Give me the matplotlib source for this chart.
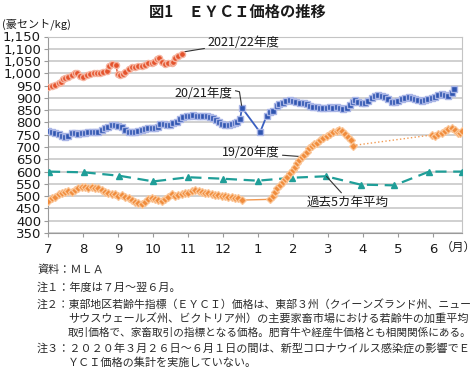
import numpy as np
import matplotlib
matplotlib.use('Agg')
import matplotlib.pyplot as plt

plt.rcParams['font.family'] = ['DejaVu Sans', 'Noto Sans CJK JP']
JP = ['Noto Sans CJK JP', 'DejaVu Sans']

# ---------------- data ----------------
month_labels = ['7', '8', '9', '10', '11', '12', '1', '2', '3', '4', '5', '6']
yticks = list(range(350, 1151, 50))

# time = months elapsed since start of July (fiscal year Jul-Jun)
fy2122_t = [0.0, 0.1, 0.2, 0.3, 0.36, 0.42, 0.49, 0.58, 0.68, 0.77, 0.84, 0.91, 0.99,
            1.1, 1.2, 1.3, 1.39, 1.49, 1.58, 1.68, 1.74, 1.82, 1.94, 1.99, 2.06, 2.13,
            2.2, 2.3, 2.39, 2.49, 2.58, 2.68, 2.77, 2.87, 2.96, 3.03, 3.1, 3.17, 3.25,
            3.34, 3.44, 3.53, 3.58, 3.63, 3.72, 3.82]
fy2122_v = [946, 947, 952, 959, 966, 976, 982, 986, 993, 1000, 1000, 989, 986,
            993, 996, 1000, 1003, 1000, 1007, 1011, 1030, 1038, 1034, 997, 993, 997,
            1007, 1016, 1024, 1027, 1030, 1030, 1034, 1041, 1043, 1047, 1057, 1061, 1047,
            1038, 1041, 1043, 1047, 1061, 1071, 1079]

fy2021_t = [0.0, 0.1, 0.2, 0.3, 0.39, 0.49, 0.58, 0.68, 0.77, 0.87, 0.96, 1.06, 1.15,
            1.25, 1.34, 1.44, 1.53, 1.63, 1.72, 1.82, 1.91, 2.01, 2.1, 2.2, 2.3, 2.39,
            2.49, 2.58, 2.68, 2.77, 2.87, 2.96, 3.06, 3.15, 3.2, 3.3, 3.39, 3.49, 3.58,
            3.68, 3.77, 3.87, 3.96, 4.06, 4.15, 4.25, 4.34, 4.44, 4.53, 4.62, 4.71, 4.8,
            4.89, 4.98, 5.07, 5.16, 5.25, 5.34, 5.41, 5.49, 5.54,
            6.06, 6.25, 6.34, 6.44, 6.53, 6.61, 6.71, 6.8, 6.9, 6.99, 7.09, 7.2, 7.3,
            7.39, 7.49, 7.58, 7.68, 7.77, 7.87, 7.96, 8.05, 8.15, 8.25, 8.34, 8.44,
            8.53, 8.62, 8.7, 8.77, 8.87, 8.96, 9.06, 9.15, 9.25, 9.34, 9.44, 9.53,
            9.63, 9.72, 9.82, 9.91, 10.01, 10.1, 10.2, 10.3, 10.39, 10.49, 10.58,
            10.68, 10.77, 10.87, 10.96, 11.06, 11.15, 11.25, 11.34, 11.44, 11.53, 11.6]
fy2021_v = [766, 763, 756, 752, 746, 742, 745, 756, 756, 752, 756, 758, 761,
            763, 760, 763, 769, 776, 783, 790, 791, 786, 780, 769, 763, 760,
            763, 766, 769, 773, 776, 777, 777, 783, 794, 794, 790, 790, 796,
            803, 813, 823, 826, 826, 830, 828, 826, 828, 828, 823, 817, 810,
            800, 792, 790, 790, 794, 799, 803, 813, 860,
            760, 828, 843, 847, 867, 874, 878, 887, 891, 887, 885, 881, 878,
            874, 868, 864, 862, 858, 858, 860, 861, 860, 861, 860, 856,
            858, 870, 885, 891, 882, 878, 881, 889, 898, 908, 912, 909,
            905, 894, 882, 885, 889, 894, 901, 905, 901, 894, 891,
            889, 891, 894, 898, 905, 912, 916, 912, 908, 919, 935]

fy1920_t = [0.0, 0.1, 0.2, 0.3, 0.39, 0.49, 0.58, 0.68, 0.77, 0.87, 0.96, 1.06, 1.15,
            1.25, 1.34, 1.44, 1.53, 1.63, 1.72, 1.82, 1.91, 2.01, 2.1, 2.2, 2.3, 2.39,
            2.49, 2.58, 2.68, 2.77, 2.87, 2.96, 3.06, 3.15, 3.25, 3.34, 3.44, 3.53,
            3.63, 3.72, 3.82, 3.91, 4.01, 4.1, 4.2, 4.3, 4.39, 4.49, 4.58, 4.68, 4.77,
            4.87, 4.96, 5.06, 5.15, 5.25, 5.34, 5.44, 5.53,
            6.34, 6.42, 6.49, 6.55, 6.63, 6.7, 6.77, 6.84, 6.91, 6.99, 7.06, 7.12,
            7.18, 7.25, 7.31, 7.39, 7.47, 7.53, 7.6, 7.68, 7.77, 7.87, 7.96, 8.06,
            8.15, 8.25, 8.32, 8.39, 8.49, 8.58, 8.65, 8.7,
            10.96, 11.06, 11.15, 11.25, 11.34, 11.44, 11.53, 11.63, 11.7, 11.77, 11.84]
fy1920_v = [481, 491, 498, 507, 514, 518, 521, 518, 525, 532, 538, 536, 532,
            536, 532, 534, 525, 518, 511, 507, 507, 502, 505, 498, 491, 484,
            477, 471, 467, 475, 487, 494, 487, 484, 481, 487, 498, 507,
            502, 505, 507, 511, 514, 521, 525, 522, 518, 514, 514, 509, 505,
            505, 502, 500, 498, 495, 494, 491, 484,
            487, 500, 518, 532, 545, 556, 568, 579, 593, 606, 620, 634,
            647, 658, 668, 681, 695, 704, 712, 718, 728, 736, 746, 754,
            760, 766, 768, 764, 755, 742, 728, 706,
            749, 745, 753, 758, 766, 772, 776, 769, 756, 758, 764]

avg5_t = [0.03, 1.03, 2.04, 3.01, 4.01, 4.99, 5.99, 6.98, 7.94, 8.93, 9.89, 10.89, 11.84]
avg5_v = [600, 597, 583, 560, 577, 571, 563, 575, 581, 547, 544, 600, 600]

# ---------------- figure ----------------
W, H = 476, 373
fig = plt.figure(figsize=(W / 100, H / 100), dpi=100)
ax = fig.add_axes([48 / W, 140 / H, 414 / W, 196.5 / H])

ax.set_xlim(0, 414 / 35)
ax.set_ylim(350, 1150)
ax.set_yticks(yticks)
ax.set_yticklabels([f'{v:,}' for v in yticks])
ax.set_xticks(range(len(month_labels)))
ax.set_xticklabels(month_labels)
ax.yaxis.grid(True, color='#c4c4c4', lw=1.1)
ax.set_axisbelow(True)
for s in ['left', 'bottom']:
    ax.spines[s].set_color('#9a9a9a')
for s in ['right', 'top']:
    ax.spines[s].set_color('#c4c4c4')
ax.tick_params(direction='out', length=3, color='#9a9a9a', labelsize=9.5,
               labelcolor='#1a1a1a', pad=2)
ax.tick_params(axis='x', pad=4)

# 5-year average
ax.plot(avg5_t, avg5_v, color='#1f9e98', lw=1.6, ls=(0, (5, 3)), marker='^',
        ms=4.5, mfc='#1f9e98', mec='#1f9e98', zorder=3)

# 2019/20 with dotted connector over gap in data
t = np.array(fy1920_t)
v = np.array(fy1920_v)
cuts = np.where(np.diff(t) > 1.5)[0]
start = 0
for c in list(cuts) + [len(t) - 1]:
    ax.plot(t[start:c + 1], v[start:c + 1], color='#f29a52', lw=1.0, marker='D',
            ms=3.6, mfc='#f08c3c', mec='#fbc79a', mew=0.9, zorder=4)
    if c < len(t) - 1:
        ax.plot(t[c:c + 2], v[c:c + 2], color='#f29a52', lw=1.0, ls=':', zorder=4)
    start = c + 1

# 2020/21
ax.plot(fy2021_t, fy2021_v, color='#3a5fc0', lw=1.3, marker='s', ms=4.2,
        mfc='#2f55b0', mec='#a9b5e6', mew=1.0, zorder=5)

# 2021/22
ax.plot(fy2122_t, fy2122_v, color='#e0502a', lw=1.0, marker='o', ms=4.4,
        mfc='#e4532c', mec='#f6b4a0', mew=1.0, zorder=6)

# labels
lab = dict(fontsize=9, family=JP, color='#1a1a1a')
arr = dict(arrowstyle='-', color='#333333', lw=0.8, shrinkA=0, shrinkB=0)
ax.annotate('2021/22年度', xy=(3.86, 1087), xytext=(4.55, 1127), ha='left', va='center',
            arrowprops=arr, **lab)
ax.text(5.28, 918, '20/21年度', ha='right', va='center', **lab)
ax.plot([5.36, 5.47, 5.53], [929, 925, 870], color='#333333', lw=0.8, zorder=7)
ax.annotate('19/20年度', xy=(7.34, 660), xytext=(6.62, 676), ha='right', va='center',
            arrowprops=arr, **lab)
ax.annotate('過去5カ年平均', xy=(7.96, 580), xytext=(7.4, 476), ha='left', va='center',
            arrowprops=dict(arrowstyle='-', color='#333333', lw=0.8, shrinkA=0,
                            shrinkB=0, relpos=(0.45, 1.0)), **lab)

# axis annotations
fig.text(2 / W, 1 - 24 / H, '(豪セント/kg)', fontsize=8, family=JP, ha='left',
         va='center', color='#1a1a1a')
fig.text(458 / W, 1 - 247 / H, '（月）', fontsize=8.5, family=JP, ha='center',
         va='center', color='#1a1a1a')
fig.text(237.5 / W, 1 - 12 / H, '図1　ＥＹＣＩ価格の推移', fontsize=11, family=JP,
         fontweight='bold', ha='center', va='center', color='#1a1a1a')

# notes: (x_left, y_center, text, right edge to justify to or None)
notes = [
    (37, 270, '資料：ＭＬＡ', None),
    (37, 288, '注１：年度は７月～翌６月。', None),
    (37, 304, '注２：東部地区若齢牛指標（ＥＹＣＩ）価格は、東部３州（クイーンズランド州、ニュー', 473),
    (68, 318, 'サウスウェールズ州、ビクトリア州）の主要家畜市場における若齢牛の加重平均', 473),
    (68, 333, '取引価格で、家畜取引の指標となる価格。肥育牛や経産牛価格とも相関関係にある。', 473),
    (37, 348, '注３：２０２０年３月２６日～６月１日の間は、新型コロナウイルス感染症の影響でＥ', 473),
    (68, 363, 'ＹＣＩ価格の集計を実施していない。', None),
]
renderer = fig.canvas.get_renderer()
for x, y, s, right in notes:
    tx = fig.text(x / W, 1 - y / H, s, fontsize=8, family=JP, ha='left', va='center',
                  color='#2a2a2a')
    if right is not None:
        w = tx.get_window_extent(renderer=renderer).width
        target = right - x
        if w > target:
            tx.set_fontsize(8 * target / w)

fig.savefig('out.png', dpi=100)
